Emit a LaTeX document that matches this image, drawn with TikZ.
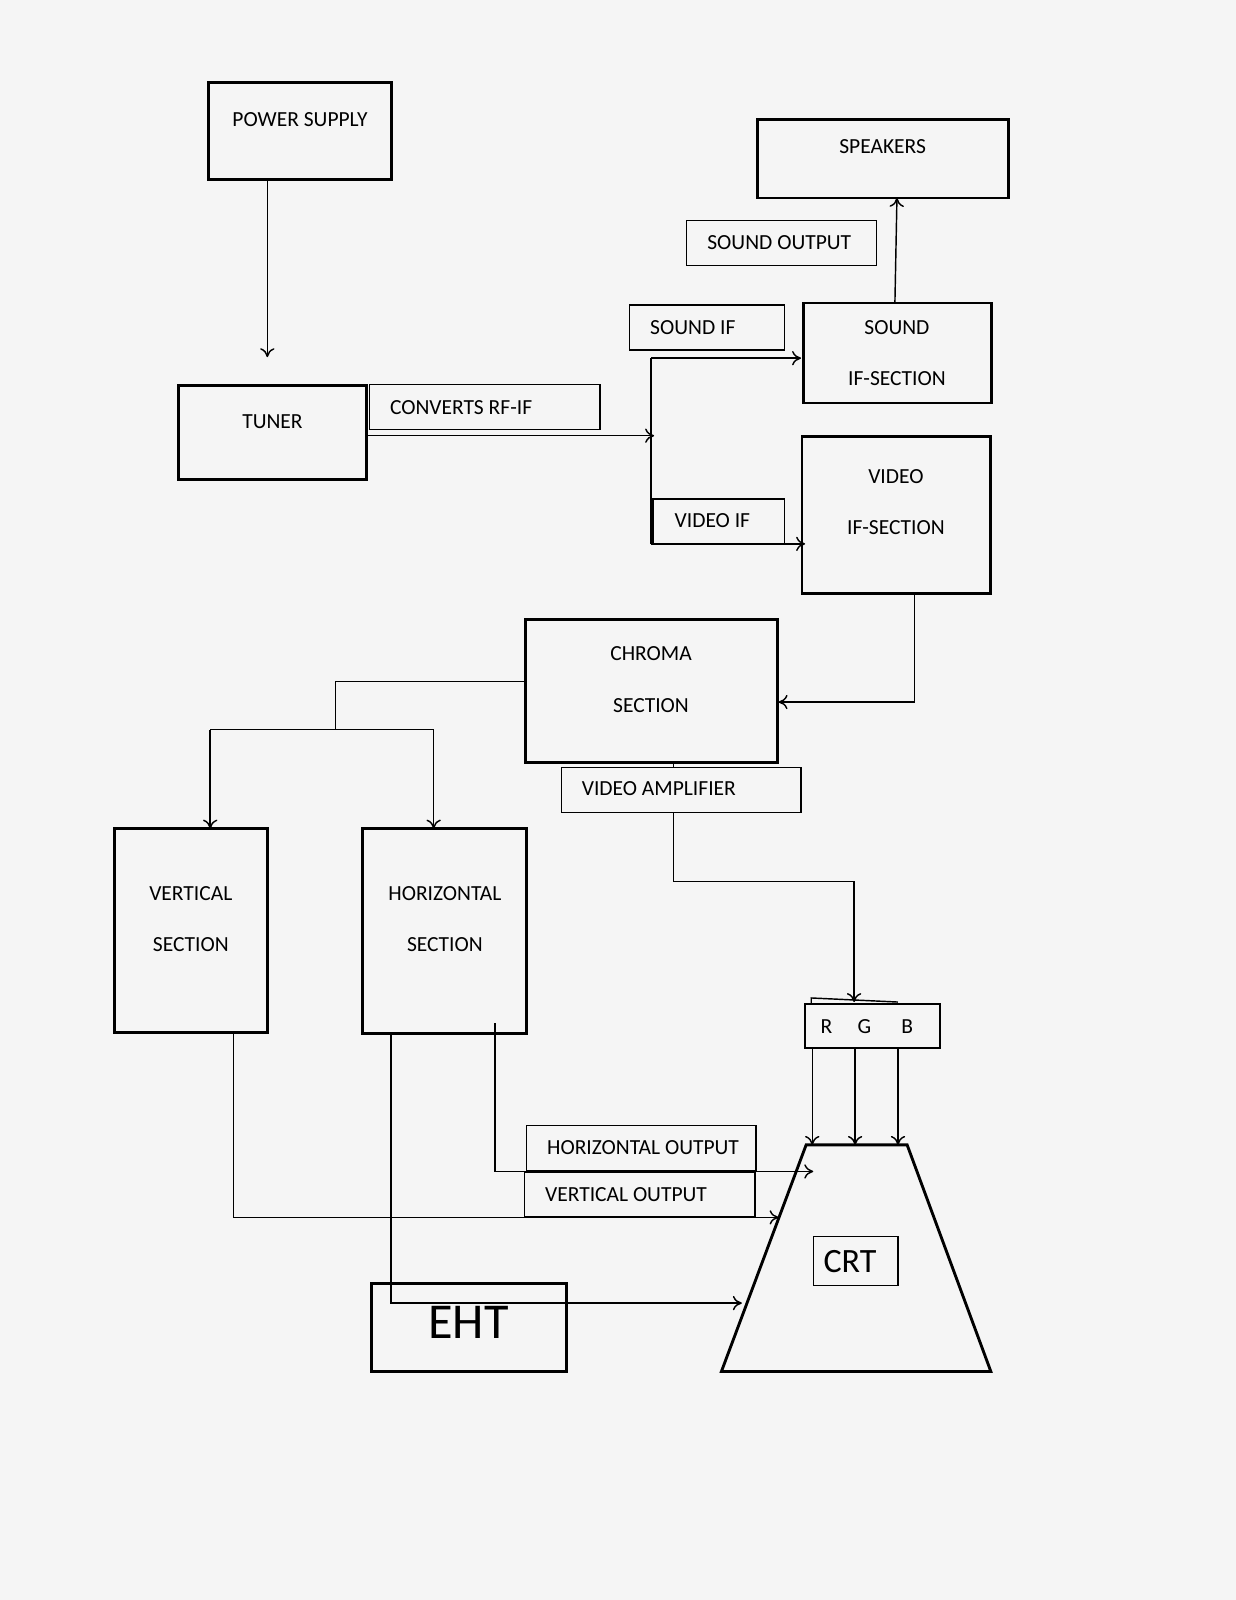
\documentclass[tikz,border=0pt]{standalone}
\usepackage{fontspec}
\setmainfont{Carlito}
\usetikzlibrary{arrows.meta}
\definecolor{bg}{HTML}{F5F5F5}
\begin{document}
\begin{tikzpicture}[x=0.02cm,y=-0.02cm,
	blk/.style={line width=1.6pt},
	lbl/.style={line width=0.8pt},
	wire/.style={line width=0.8pt},
	arr/.style={wire,-{To[length=5pt,width=8pt]}},
	txt/.style={font=\fontsize{12}{14}\selectfont}]
	\fill[bg] (0,0) rectangle (1211,1568);
	\useasboundingbox (0,0) rectangle (1211,1568);
	
	%power supply and tuner
	\draw[blk] (204,81) rectangle (384,176);
	\node[txt] (ps) at (294,117) {POWER SUPPLY};
	\draw[arr] (262,176)--(262,350);
	\draw[blk] (175,378) rectangle (359,470);
	\node[txt] (tuner) at (267,413) {TUNER};
	\draw[lbl] (362,377) rectangle (588,421);
	\node[txt,anchor=west] at (376,399) {CONVERTS RF-IF};
	\draw[arr] (359,427)--(641,427);
	
	%IF split
	\draw[wire] (638,427)--(638,351);
	\draw[wire] (638,427)--(638,533);
	\draw[arr] (638,351)--(785,351);
	\draw[arr] (638,533)--(789,533);
	\draw[lbl] (617,299) rectangle (769,343);
	\node[txt,anchor=west] at (631,321) {SOUND IF};
	\draw[lbl] (640,489) rectangle (769,533);
	\node[txt,anchor=west] at (655,510) {VIDEO IF};
	
	%sound
	\draw[blk] (787,297) rectangle (972,395);
	\node[txt] at (879,321) {SOUND};
	\node[txt] at (879,371) {IF-SECTION};
	\draw[blk] (742,117) rectangle (988,194);
	\node[txt] at (865,144) {SPEAKERS};
	\draw[lbl] (673,216) rectangle (859,260);
	\node[txt,anchor=west] at (687,238) {SOUND OUTPUT};
	\draw[arr] (877,297)--(879,194);
	
	%video
	\draw[blk] (786,428) rectangle (971,582);
	\node[txt] at (878,467) {VIDEO};
	\node[txt] at (878,517) {IF-SECTION};
	\draw[arr] (896,582)--(896,688)--(763,688);
	
	%chroma
	\draw[blk] (515,607) rectangle (762,747);
	\node[txt] at (638,641) {CHROMA};
	\node[txt] at (638,691) {SECTION};
	\draw[wire] (515,668)--(329,668)--(329,715);
	\draw[wire] (206,715)--(425,715);
	\draw[arr] (206,715)--(206,812);
	\draw[arr] (425,715)--(425,812);
	\draw[lbl] (550,752) rectangle (785,796);
	\node[txt,anchor=west] at (564,773) {VIDEO AMPLIFIER};
	\draw[wire] (660,747)--(660,752);
	\draw[arr] (660,796)--(660,864)--(837,864)--(837,982);
	
	%deflection
	\draw[blk] (112,812) rectangle (262,1012);
	\node[txt] at (187,876) {VERTICAL};
	\node[txt] at (187,926) {SECTION};
	\draw[blk] (355,812) rectangle (516,1013);
	\node[txt] at (436,876) {HORIZONTAL};
	\node[txt] at (436,926) {SECTION};
	
	%RGB
	\draw[wire] (795,984)--(795,978)--(880,982);
	\draw[lbl] (789,984) rectangle (921,1027);
	\node[txt] at (810,1006) {R};
	\node[txt] at (847,1006) {G};
	\node[txt] at (889,1006) {B};
	\foreach \gx in {796,838,880}
		\draw[arr] (\gx,1027)--(\gx,1122);
	
	%CRT
	\draw[blk] (790,1122)--(889,1122)--(971,1344)--(707,1344)--cycle;
	\draw[lbl] (797,1212) rectangle (880,1260);
	\node[font=\fontsize{19}{22}\selectfont] at (833,1236) {CRT};
	
	%outputs
	\draw[arr] (485,1003)--(485,1148)--(797,1148);
	\draw[lbl] (516,1103) rectangle (741,1147);
	\node[txt,anchor=west] at (530,1125) {HORIZONTAL OUTPUT};
	\draw[arr] (229,1012)--(229,1193)--(763,1193);
	\draw[lbl] (514,1149) rectangle (740,1192);
	\node[txt,anchor=west] at (528,1171) {VERTICAL OUTPUT};
	
	%EHT
	\draw[blk] (364,1258) rectangle (555,1344);
	\node[font=\fontsize{28}{32}\selectfont] at (459,1296) {EHT};
	\draw[arr] (383,1013)--(383,1277)--(727,1277);
\end{tikzpicture}
\end{document}
